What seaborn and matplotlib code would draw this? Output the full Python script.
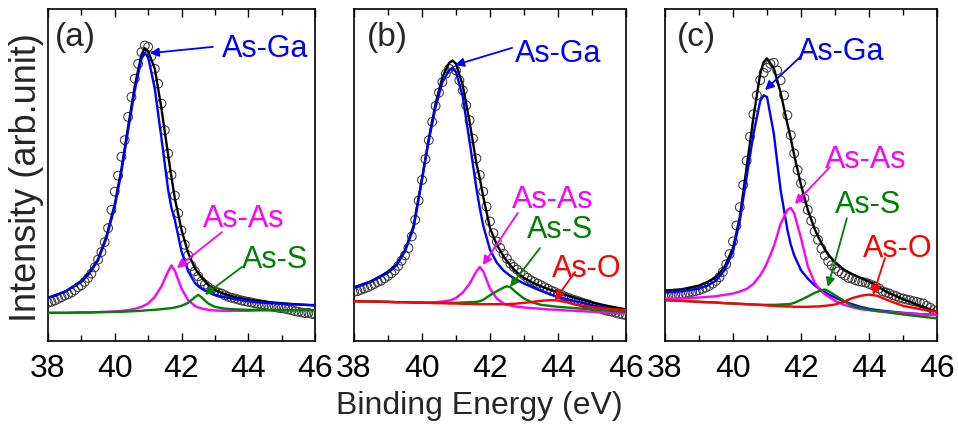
import matplotlib
matplotlib.use("Agg")
import matplotlib.pyplot as plt
import numpy as np
import seaborn as sns

# energy grid of the fitted curves (eV)
fit_energy = [38.0, 38.5, 39.0, 39.25, 39.5, 39.75, 40.0, 40.2, 40.4, 40.6, 40.8, 40.9,
              41.0, 41.2, 41.4, 41.6, 41.7, 41.8, 42.0, 42.2, 42.4, 42.5, 42.6, 42.7, 42.8,
              43.0, 43.25, 43.5, 43.75, 44.0, 44.25, 44.5, 45.0, 45.5, 46.0]
# measured points, every 0.1 eV from 38 to 46
data_energy = np.round(np.arange(38.0, 46.05, 0.1), 1)

# ---- panel (a) ----
a_points = [11.5, 11.8, 12.2, 12.7, 13.2, 13.7, 14.1, 14.6, 15.3, 16.2,
            16.8, 17.8, 19.0, 20.3, 22.2, 24.5, 26.8, 29.8, 34.0, 39.5,
            45.0, 49.8, 55.5, 60.5, 67.5, 73.5, 79.0, 83.5, 87.0, 89.0,
            88.6, 85.8, 82.0, 77.5, 71.5, 63.5, 56.5, 50.0, 43.8, 38.5,
            33.3, 29.0, 25.8, 22.6, 21.0, 19.5, 17.9, 17.0, 16.2, 15.5,
            15.0, 14.6, 14.3, 13.8, 13.3, 13.0, 12.8, 12.5, 12.2, 12.0,
            11.8, 11.6, 11.4, 11.2, 11.0, 10.9, 10.6, 10.4, 10.2, 10.0,
            9.9, 9.7, 9.5, 9.3, 9.0, 8.8, 8.6, 8.4, 8.5, 8.2,
            8.0]
a_fit = [13.0, 14.8, 18.0, 20.8, 24.6, 31.5, 41.2, 51.8, 64.5, 76.8, 86.2, 88.2,
         87.3, 82.0, 70.0, 56.0, 49.3, 43.0, 33.5, 26.5, 22.0, 20.5, 19.2, 18.0, 16.9,
         15.4, 14.3, 13.5, 12.9, 12.5, 12.1, 11.8, 11.4, 11.0, 10.7]
a_ga = [13.0, 14.8, 17.8, 20.5, 24.3, 31.0, 40.5, 51.0, 63.5, 75.5, 85.0, 86.8,
        85.5, 76.0, 61.0, 45.5, 40.0, 36.5, 27.0, 21.0, 17.5, 16.5, 15.8, 15.2, 14.7,
        13.9, 13.3, 12.8, 12.4, 12.0, 11.7, 11.5, 11.2, 11.0, 10.8]
a_as = [8.5, 8.5, 8.6, 8.6, 8.7, 8.8, 8.9, 9.1, 9.3, 9.7, 10.3, 10.8,
        11.3, 13.3, 16.5, 21.0, 22.8, 21.2, 15.8, 12.3, 10.6, 10.1, 9.8, 9.6, 9.4,
        9.2, 9.1, 9.1, 9.1, 9.1, 9.2, 9.2, 9.2, 9.3, 9.3]
a_s = [8.5, 8.5, 8.6, 8.6, 8.7, 8.7, 8.8, 8.8, 8.9, 9.0, 9.1, 9.2,
       9.3, 9.4, 9.6, 9.8, 9.9, 10.1, 10.6, 11.5, 13.2, 13.9, 13.2, 12.2, 11.3,
       10.3, 9.8, 9.6, 9.5, 9.4, 9.4, 9.4, 9.3, 9.3, 9.3]

# ---- panel (b) ----
b_points = [14.8, 15.0, 15.4, 15.8, 16.2, 16.7, 17.2, 17.8, 18.2, 18.9,
            19.6, 20.4, 21.3, 22.6, 24.2, 25.8, 28.0, 31.5, 36.5, 42.3,
            48.5, 54.8, 60.5, 66.0, 70.8, 74.8, 78.0, 80.5, 82.0, 82.8,
            81.5, 78.5, 75.5, 71.0, 66.5, 61.0, 55.0, 50.0, 45.0, 40.5,
            36.0, 32.5, 30.0, 28.0, 26.3, 24.8, 23.3, 22.3, 21.5, 20.6,
            19.8, 19.0, 18.3, 17.8, 17.3, 16.8, 16.2, 15.7, 15.2, 14.8,
            14.3, 13.9, 13.4, 13.0, 12.6, 12.3, 12.0, 11.6, 11.3, 11.0,
            10.6, 10.2, 9.9, 9.6, 9.2, 9.0, 8.8, 8.5, 8.2, 8.0,
            7.8]
b_fit = [16.2, 18.0, 20.8, 23.0, 27.3, 34.6, 49.0, 61.0, 71.5, 79.5, 83.8, 84.5,
         83.5, 77.0, 66.0, 53.5, 49.0, 43.5, 34.0, 29.0, 25.5, 24.0, 22.8, 21.6, 20.6,
         19.0, 17.6, 16.5, 15.5, 14.7, 13.8, 13.0, 11.6, 10.5, 9.5]
b_ga = [16.0, 17.8, 20.6, 22.8, 27.0, 34.0, 48.5, 60.5, 70.5, 78.0, 81.6, 82.3,
        81.0, 73.5, 60.0, 46.0, 40.0, 34.8, 27.5, 23.6, 21.2, 20.4, 19.6, 19.0, 18.4,
        17.3, 16.2, 15.1, 14.1, 13.3, 12.6, 12.0, 10.8, 9.8, 8.8]
b_as = [12.0, 11.9, 11.8, 11.7, 11.7, 11.6, 11.6, 11.6, 11.7, 11.9, 12.2, 12.5,
        13.0, 14.6, 17.3, 21.0, 22.3, 21.0, 15.8, 12.8, 11.3, 10.9, 10.7, 10.5, 10.3,
        10.1, 9.9, 9.7, 9.5, 9.4, 9.2, 9.1, 8.8, 8.5, 8.3]
b_s = [12.0, 11.9, 11.8, 11.7, 11.7, 11.6, 11.6, 11.5, 11.5, 11.5, 11.5, 11.5,
       11.5, 11.6, 11.7, 11.8, 12.0, 12.4, 13.8, 15.0, 16.1, 16.5, 16.2, 15.3, 14.4,
       12.8, 11.6, 10.9, 10.6, 10.3, 10.1, 9.9, 9.5, 9.1, 8.8]
b_o = [12.0, 11.9, 11.8, 11.7, 11.7, 11.6, 11.5, 11.5, 11.4, 11.4, 11.3, 11.3,
       11.3, 11.2, 11.2, 11.1, 11.1, 11.1, 11.1, 11.1, 11.1, 11.1, 11.2, 11.2, 11.3,
       11.5, 11.8, 12.1, 12.3, 12.2, 11.7, 11.0, 10.2, 9.7, 9.3]

# ---- panel (c) ----
c_points = [13.5, 13.7, 13.8, 13.9, 14.1, 14.2, 14.4, 14.6, 14.8, 15.0,
            15.3, 15.7, 16.1, 16.6, 17.3, 18.1, 19.2, 20.8, 23.1, 26.2,
            30.0, 34.8, 40.3, 47.0, 54.3, 61.5, 68.3, 74.0, 78.6, 80.8,
            82.3, 83.5, 83.8, 81.5, 78.5, 74.0, 68.0, 62.0, 56.5, 51.5,
            47.5, 43.0, 39.5, 36.2, 33.0, 30.5, 27.8, 25.8, 24.0, 22.8,
            21.8, 21.0, 20.3, 19.7, 19.0, 18.8, 18.3, 18.0, 17.8, 17.6,
            17.2, 16.8, 16.4, 15.8, 15.0, 14.6, 14.3, 13.8, 13.5, 13.0,
            12.8, 12.5, 12.3, 12.0, 11.8, 11.5, 11.3, 10.6, 10.0, 9.3,
            9.0]
c_fit = [15.2, 15.6, 16.7, 17.8, 19.2, 22.3, 28.0, 37.3, 52.3, 67.3, 80.5, 84.0,
         85.1, 82.2, 74.8, 65.4, 61.0, 56.0, 47.0, 39.5, 33.8, 31.5, 29.5, 27.6, 26.0,
         23.8, 21.6, 20.2, 19.0, 17.9, 16.5, 14.9, 12.6, 10.6, 8.8]
c_ga = [14.6, 15.0, 15.8, 16.7, 18.2, 21.3, 27.0, 36.3, 49.3, 62.3, 72.3, 74.0,
        73.5, 62.5, 45.5, 33.5, 29.0, 25.8, 21.3, 18.8, 16.8, 16.0, 15.3, 14.7, 14.1,
        13.1, 12.0, 11.1, 10.3, 9.7, 9.3, 9.0, 8.5, 8.1, 7.8]
c_as = [12.7, 12.9, 13.1, 13.3, 13.5, 13.9, 14.3, 14.9, 15.7, 17.2, 19.8, 21.5,
        23.5, 28.5, 35.3, 39.5, 40.1, 38.5, 31.0, 22.5, 17.6, 16.2, 15.0, 14.1, 13.4,
        12.1, 11.0, 10.2, 9.6, 9.3, 9.0, 8.8, 8.4, 8.1, 7.8]
c_s = [12.3, 12.1, 11.8, 11.7, 11.6, 11.4, 11.3, 11.2, 11.1, 11.0, 10.9, 10.9,
       10.9, 10.9, 11.0, 11.1, 11.2, 11.5, 12.4, 13.4, 14.5, 14.9, 15.3, 15.5, 15.1,
       13.8, 12.2, 10.6, 9.9, 9.4, 9.0, 8.7, 8.0, 7.4, 6.8]
c_o = [12.3, 12.1, 11.8, 11.7, 11.6, 11.4, 11.3, 11.2, 11.1, 11.0, 10.9, 10.8,
       10.7, 10.6, 10.5, 10.4, 10.4, 10.3, 10.3, 10.3, 10.4, 10.4, 10.5, 10.6, 10.7,
       11.0, 11.8, 12.9, 13.6, 14.0, 13.6, 12.5, 10.6, 9.6, 8.8]

BLUE, MAG, GREEN, RED = "#0000ff", "#ff00ff", "#008000", "#ff0000"

sns.set_style("ticks")
plt.rcParams["font.family"] = ["Liberation Sans", "DejaVu Sans"]

fig = plt.figure(figsize=(9.58, 4.25), dpi=100)
rects = [[48 / 958, 0.1976, 267 / 958, 0.7812],
         [354 / 958, 0.1976, 272 / 958, 0.7812],
         [665 / 958, 0.1976, 272 / 958, 0.7812]]

panels = [
    ("(a)", 0.026, a_points, [(a_fit, "black"), (a_ga, BLUE), (a_as, MAG), (a_s, GREEN)],
     [("As-Ga", BLUE, (43.21, 85.5), (42.94, 88.6), (41.05, 86.7)),
      ("As-As", MAG, (42.64, 34.3), (43.21, 32.8), (41.86, 22.0)),
      ("As-S", GREEN, (43.81, 22.0), (43.81, 22.3), (42.70, 13.9))]),
    ("(b)", 0.048, b_points, [(b_fit, "black"), (b_ga, BLUE), (b_as, MAG), (b_s, GREEN), (b_o, RED)],
     [("As-Ga", BLUE, (42.74, 84.0), (42.65, 88.3), (40.97, 83.1)),
      ("As-As", MAG, (42.65, 40.1), (42.82, 38.6), (41.79, 22.9)),
      ("As-S", GREEN, (43.09, 31.0), (43.47, 28.0), (42.59, 16.3)),
      ("As-O", RED, (43.82, 19.3), (44.50, 20.8), (43.91, 12.3))]),
    ("(c)", 0.044, c_points, [(c_fit, "black"), (c_ga, BLUE), (c_as, MAG), (c_s, GREEN), (c_o, RED)],
     [("As-Ga", BLUE, (41.91, 84.6), (41.97, 85.5), (40.94, 75.6)),
      ("As-As", MAG, (42.71, 52.1), (42.85, 52.4), (41.82, 41.3)),
      ("As-S", GREEN, (43.00, 38.6), (43.35, 37.0), (42.79, 16.3)),
      ("As-O", RED, (43.82, 25.3), (44.47, 25.0), (44.12, 13.9))]),
]

for rect, (tag, tagx, pts, curves, labels) in zip(rects, panels):
    ax = fig.add_axes(rect)
    sns.scatterplot(x=data_energy, y=pts, ax=ax, marker="o", s=40,
                    facecolors="none", edgecolor="#383838", linewidth=0.75, zorder=2)
    for vals, col in curves:
        sns.lineplot(x=fit_energy, y=vals, ax=ax, color=col, linewidth=1.7, zorder=3)

    for text, col, txy, tail, tip in labels:
        ax.text(txy[0], txy[1], text, color=col, fontsize=22, ha="left", va="baseline", zorder=5)
        ax.annotate("", xy=tip, xytext=tail,
                    arrowprops=dict(arrowstyle="-|>", color=col, lw=1.3,
                                    mutation_scale=13, shrinkA=0, shrinkB=0), zorder=5)
    ax.text(tagx, 0.889, tag, transform=ax.transAxes, fontsize=24, ha="left", va="baseline")

    ax.set_xlim(38, 46)
    ax.set_ylim(0, 100)
    ax.set_xticks([38, 40, 42, 44, 46])
    ax.set_xticks([39, 41, 43, 45], minor=True)
    ax.set_yticks([])
    ax.set_xlabel("")
    ax.set_ylabel("")
    ax.tick_params(axis="x", which="both", direction="in", top=True, bottom=True,
                   labelsize=23, pad=9, width=1.0, color="black", labelcolor="black")
    ax.tick_params(axis="x", which="major", length=6)
    ax.tick_params(axis="x", which="minor", length=4)
    for sp in ax.spines.values():
        sp.set_visible(True)
        sp.set_linewidth(1.2)
        sp.set_color("black")

fig.text(0.5, 11 / 425, "Binding Energy (eV)", fontsize=23, ha="center", va="baseline")
fig.text(26.5 / 958, 1 - 178 / 425, "Intensity (arb.unit)", fontsize=26,
         rotation=90, ha="center", va="center")

fig.savefig("out.png", dpi=100)
